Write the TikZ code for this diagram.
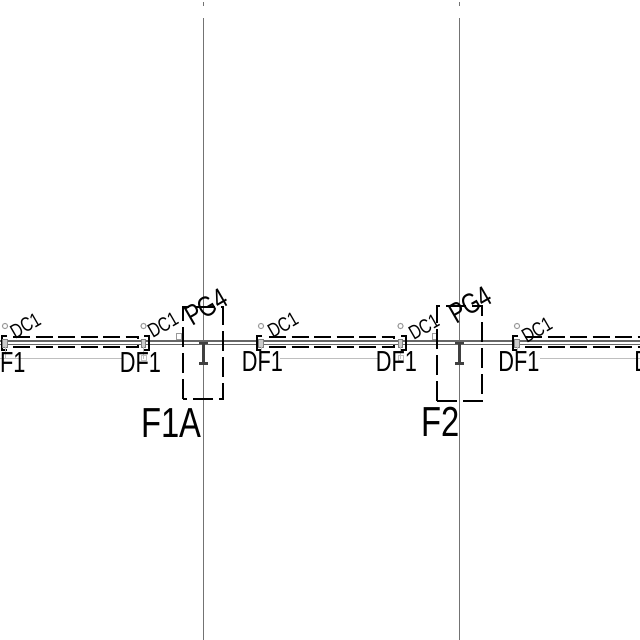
\documentclass[tikz,border=0pt]{standalone}
\usepackage{fontspec}
\setmainfont{Liberation Sans}
\tikzset{
  grid/.style={draw=black!55,line width=0.8pt},
  rail/.style={draw=black!60,line width=1.3pt},
  faint/.style={draw=black!25,line width=1pt},
  dashspan/.style={draw=black,line width=2pt,dash pattern=on 17pt off 5.5pt},
  dashbox/.style={draw=black,line width=2pt,dash pattern=on 20pt off 6pt},
  bracket/.style={draw=black,line width=1.6pt},
  small/.style={draw=black!40,line width=1pt,fill=white},
  beam/.style={draw=black!75,line width=2.6pt},
  tagsmall/.style={inner sep=0pt,font=\fontsize{20}{20}\selectfont,rotate=30,xscale=0.78},
  tagdf/.style={inner sep=0pt,font=\fontsize{29}{29}\selectfont,xscale=0.75},
  tagpg/.style={inner sep=0pt,font=\fontsize{28.5}{28.5}\selectfont,rotate=30,xscale=0.78},
  tagbig/.style={inner sep=0pt,font=\fontsize{42}{42}\selectfont,xscale=0.78},
}
\begin{document}
\begin{tikzpicture}[x=1pt,y=-1pt]
\useasboundingbox (0,0) rectangle (640,640);
\clip (0,0) rectangle (640,640);
% grid lines
\foreach \x in {203.5,459.5}{
  \draw[grid] (\x,18) -- (\x,640);
  \draw[grid,line width=0.5pt] (\x,2) -- (\x,6);
}
% faint lines
\foreach \a/\b in {0/122,280/378,540/640}
  \draw[faint] (\a,358.5) -- (\b,358.5);
% rails
\draw[rail] (0,341) -- (640,341);
\draw[rail] (0,344.5) -- (640,344.5);
% spans
\foreach \a/\b in {8/143,264/399,520/655}{
  \draw[dashspan] (\a+5,337) -- (\b-5,337) -- (\b-5,339);
  \draw[dashspan] (\a+5,347) -- (\b-5,347) -- (\b-5,345);
}
% end details
\foreach \x/\d in {4/1,147/-1,259/1,404/-1,515/1}{
  \draw[bracket] (\x+\d*3,336) -- (\x-\d*2,336) -- (\x-\d*2,350) -- (\x+\d*3,350);
}
\foreach \x in {5,143.5,261,400.5,517}{
  \draw[small] (\x,326) circle (2.6);
  \draw[draw=black!50,fill=black!20,line width=0.8pt] (\x-2.2,339) rectangle (\x+2.2,347);
  \draw[draw=black!25,line width=0.8pt] (\x,347) -- (\x,359);
}
\foreach \x in {143.5,400.5}
  \draw[draw=black!25,line width=0.7pt] (\x-2.5,355) rectangle (\x+2.5,360);
\foreach \x in {179,435}
  \draw[small,fill=none] (\x-2.8,333.5) rectangle (\x+2.8,339.5);
% PG boxes
\draw[dashbox] (183,399) -- (183,307) -- (223,307) -- (223,399) -- cycle;
\draw[dashbox] (437,401) -- (437,306) -- (482,306) -- (482,401) -- cycle;
% I beams
\foreach \x in {203.5,459.5}{
  \draw[draw=black!75,line width=3.4pt] (\x,343) -- (\x,363.5);
  \draw[beam] (\x-4.5,343) -- (\x+4.5,343);
  \draw[beam] (\x-4.5,363.5) -- (\x+4.5,363.5);
}
% labels
\node[tagsmall] (dc1) at (25.5,325.5) {DC1};
\node[tagsmall] (dc2) at (163,325) {DC1};
\node[tagsmall] (dc3) at (283,325) {DC1};
\node[tagsmall] (dc4) at (424,327) {DC1};
\node[tagsmall] (dc5) at (537,330) {DC1};
\node[tagdf] (df0) at (5,363) {DF1};
\node[tagdf] (df1) at (140.5,363) {DF1};
\node[tagdf] (df2) at (262.5,362) {DF1};
\node[tagdf] (df3) at (396.5,362) {DF1};
\node[tagdf] (df4) at (519,362) {DF1};
\node[tagdf] (df5) at (655,362) {DF1};
\node[tagpg] (pg1) at (206.5,307) {PG4};
\node[tagpg] (pg2) at (470.5,304.5) {PG4};
\node[tagbig] (f1a) at (171.5,423) {F1A};
\node[tagbig] (f2) at (441,422) {F2};
\end{tikzpicture}
\end{document}
